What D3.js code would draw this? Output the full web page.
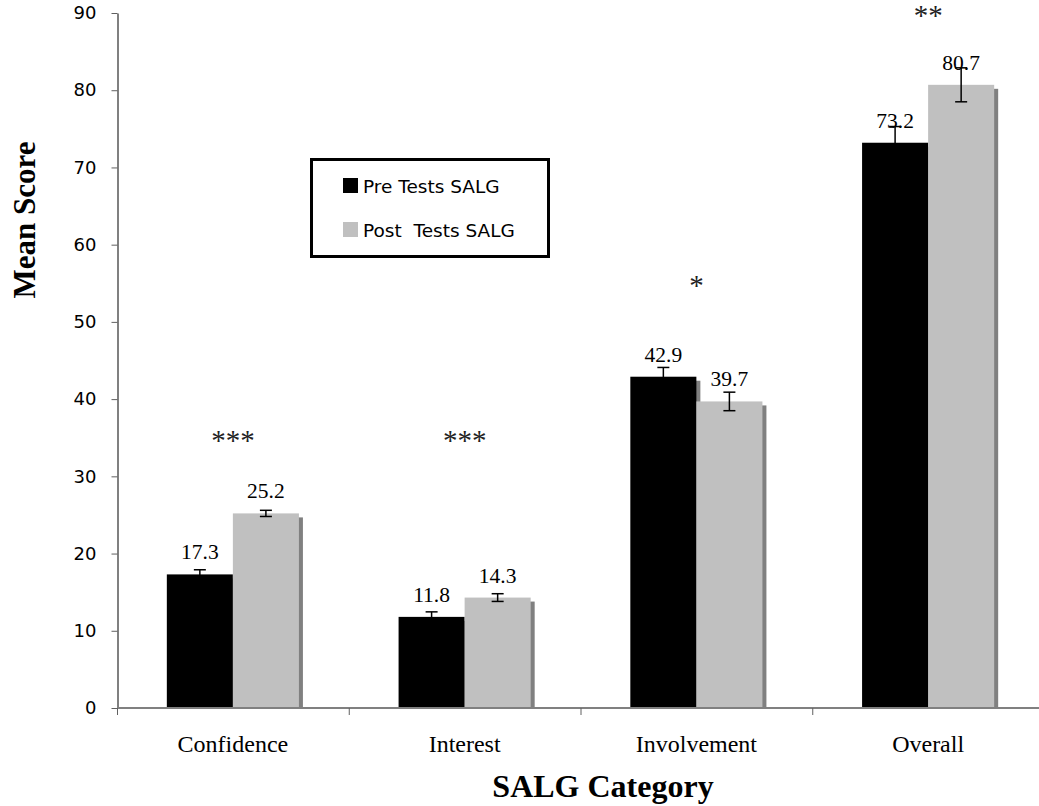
<!DOCTYPE html>
<html>
<head>
<meta charset="utf-8">
<script src="https://cdn.jsdelivr.net/npm/d3@7"></script>
<style>
  body { margin: 0; background: #fff; }
  svg { display: block; }
</style>
</head>
<body>
<div id="chart"></div>
<script>
// SALG pre/post mean scores
var categories = ["Confidence", "Interest", "Involvement", "Overall"];
var seriesNames = ["Pre Tests SALG", "Post  Tests SALG"];
var preScores = [17.3, 11.8, 42.9, 73.2];
var postScores = [25.2, 14.3, 39.7, 80.7];
var preErrors = [0.6, 0.65, 1.2, 2.1];
var postErrors = [0.4, 0.5, 1.2, 2.2];
var significance = ["***", "***", "*", "**"];
var yTicks = [0, 10, 20, 30, 40, 50, 60, 70, 80, 90];

var width = 1039;
var height = 806;
var serif = "'Liberation Serif', 'Times New Roman', serif";
var sans = "'DejaVu Sans', Verdana, sans-serif";
var colors = ["#000000", "#c0c0c0"];
var shadowColor = "#808080";

// where the significance stars sit (in score units)
var starLevels = [33.4, 33.4, 53.5, 88.5];

var svg = d3.select("#chart").append("svg")
  .attr("width", width)
  .attr("height", height);

var x = d3.scaleBand()
  .domain(categories)
  .range([117, 1044])
  .padding(0);

var xSub = d3.scaleBand()
  .domain(seriesNames)
  .range([x.bandwidth() * 0.215, x.bandwidth() * 0.785]);

var y = d3.scaleLinear()
  .domain([0, 90])
  .range([708, 13]);

var rows = categories.map(function (c, i) {
  return [
    { cat: c, s: seriesNames[0], v: preScores[i], e: preErrors[i], k: 0 },
    { cat: c, s: seriesNames[1], v: postScores[i], e: postErrors[i], k: 1 }
  ];
});

var groups = svg.append("g")
  .selectAll("g")
  .data(rows)
  .enter().append("g")
  .attr("transform", function (d, i) { return "translate(" + x(categories[i]) + ",0)"; });

// each bar gets its shadow drawn right before it
groups.each(function (pair) {
  var g = d3.select(this);
  pair.forEach(function (d) {
    g.append("rect")
      .attr("x", xSub(d.s) + 4)
      .attr("y", y(d.v) + 4)
      .attr("width", xSub.bandwidth())
      .attr("height", Math.max(0, y(0) - y(d.v) - 4))
      .attr("fill", shadowColor);
    g.append("rect")
      .attr("x", xSub(d.s))
      .attr("y", y(d.v))
      .attr("width", xSub.bandwidth())
      .attr("height", y(0) - y(d.v))
      .attr("fill", colors[d.k]);
  });
});

// error bars
groups.each(function (pair) {
  var g = d3.select(this);
  pair.forEach(function (d) {
    var cx = xSub(d.s) + xSub.bandwidth() / 2;
    g.append("line")
      .attr("x1", cx).attr("x2", cx)
      .attr("y1", y(d.v + d.e)).attr("y2", y(d.v - d.e))
      .attr("stroke", "#000").attr("stroke-width", 1.5);
    [d.v + d.e, d.v - d.e].forEach(function (t) {
      g.append("line")
        .attr("x1", cx - 6).attr("x2", cx + 6)
        .attr("y1", y(t)).attr("y2", y(t))
        .attr("stroke", "#000").attr("stroke-width", 1.5);
    });
    g.append("text")
      .attr("x", cx)
      .attr("y", y(d.v) - 15)
      .attr("text-anchor", "middle")
      .attr("font-family", serif)
      .attr("font-size", 21.5)
      .attr("fill", "#000")
      .text(d.v.toFixed(1));
  });
});

// significance stars
svg.append("g")
  .selectAll("text")
  .data(significance)
  .enter().append("text")
  .attr("x", function (d, i) { return x(categories[i]) + x.bandwidth() / 2; })
  .attr("y", function (d, i) { return y(starLevels[i]); })
  .attr("text-anchor", "middle")
  .attr("font-family", serif)
  .attr("font-size", 29)
  .attr("fill", "#222")
  .text(function (d) { return d; });

// y axis
var yAxis = svg.append("g")
  .attr("transform", "translate(117.5,0)")
  .call(d3.axisLeft(y).tickValues(yTicks).tickSize(6).tickSizeOuter(0).tickPadding(15));
yAxis.select(".domain").attr("stroke", "#808080").attr("stroke-width", 2);
yAxis.selectAll(".tick line").attr("stroke", "#606060");
yAxis.selectAll(".tick text")
  .attr("font-family", sans)
  .attr("font-size", 18)
  .attr("fill", "#000");

// x axis: ticks on category boundaries, labels centred
var xAxis = svg.append("g");
xAxis.append("line")
  .attr("x1", 117).attr("x2", width)
  .attr("y1", y(0)).attr("y2", y(0))
  .attr("stroke", "#808080").attr("stroke-width", 2);
var bounds = categories.map(function (c) { return x(c); }).concat([x.range()[1]]);
xAxis.selectAll("line.tick")
  .data(bounds)
  .enter().append("line")
  .attr("class", "tick")
  .attr("x1", function (d) { return d + 0.5; })
  .attr("x2", function (d) { return d + 0.5; })
  .attr("y1", y(0))
  .attr("y2", y(0) + 7)
  .attr("stroke", "#606060");
xAxis.selectAll("text")
  .data(categories)
  .enter().append("text")
  .attr("x", function (d) { return x(d) + x.bandwidth() / 2; })
  .attr("y", 752)
  .attr("text-anchor", "middle")
  .attr("font-family", serif)
  .attr("font-size", 24)
  .attr("fill", "#000")
  .text(function (d) { return d; });

// axis titles
svg.append("text")
  .attr("x", 603)
  .attr("y", 797)
  .attr("text-anchor", "middle")
  .attr("font-family", serif)
  .attr("font-weight", "bold")
  .attr("font-size", 32)
  .text("SALG Category");

svg.append("text")
  .attr("transform", "translate(35,220) rotate(-90)")
  .attr("text-anchor", "middle")
  .attr("font-family", serif)
  .attr("font-weight", "bold")
  .attr("font-size", 31)
  .text("Mean Score");

// legend
var legend = svg.append("g");
legend.append("rect")
  .attr("x", 311.5).attr("y", 159.5)
  .attr("width", 237).attr("height", 97)
  .attr("fill", "#fff")
  .attr("stroke", "#000")
  .attr("stroke-width", 3);
var items = legend.selectAll("g.item")
  .data(seriesNames)
  .enter().append("g")
  .attr("class", "item")
  .attr("transform", function (d, i) { return "translate(343," + (193 + i * 44) + ")"; });
items.append("rect")
  .attr("x", 0).attr("y", -15)
  .attr("width", 15).attr("height", 15)
  .attr("fill", function (d, i) { return colors[i]; });
items.append("text")
  .attr("x", 20)
  .attr("y", 0)
  .attr("font-family", sans)
  .attr("font-size", 18.5)
  .attr("fill", "#000")
  .style("white-space", "pre")
  .text(function (d) { return d; });
</script>
</body>
</html>
